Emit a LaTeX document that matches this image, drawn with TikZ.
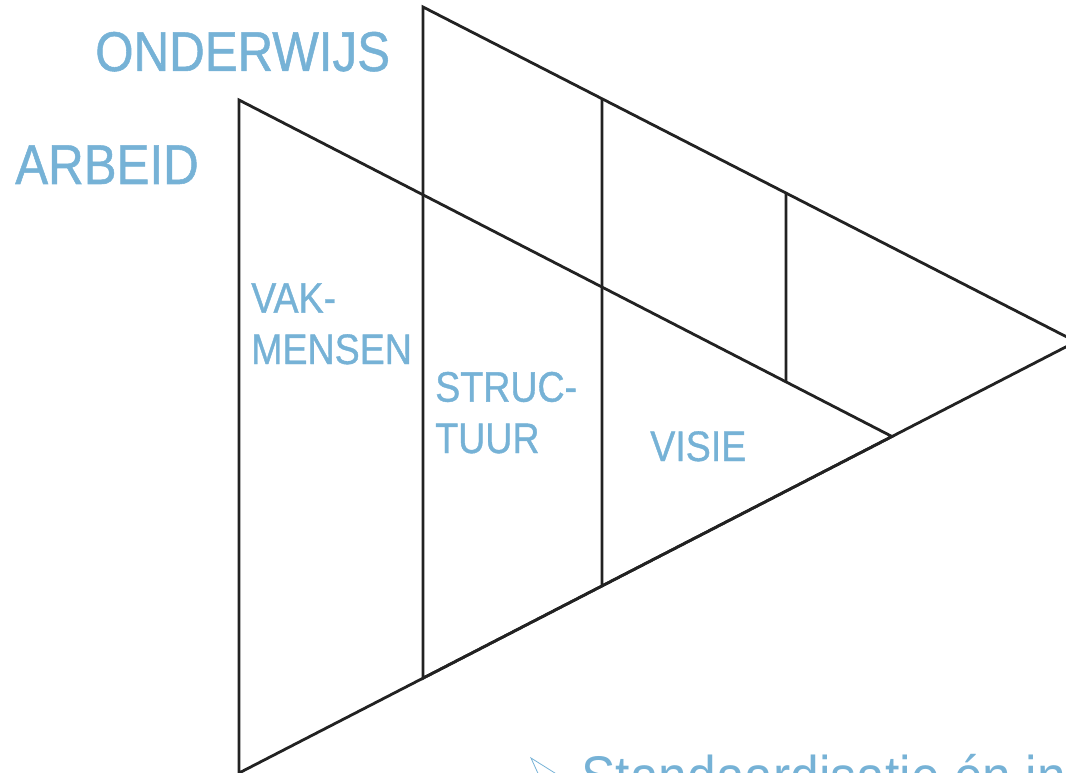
\documentclass[tikz,border=0pt]{standalone}
\usepackage{fontspec}
\usetikzlibrary{calc}
\newfontfamily\lblfont[FakeStretch=0.88,FakeBold=0.9]{Liberation Sans}
\newfontfamily\bulletfont[FakeStretch=0.9]{Liberation Sans}
\definecolor{lblblue}{RGB}{118,178,214}
\definecolor{edgegray}{RGB}{34,34,34}

\begin{document}
\begin{tikzpicture}[x=0.75pt,y=0.75pt,yscale=-1,xscale=1,
  lbl/.style={text=lblblue, inner sep=0pt, anchor=base west, align=left},
  big/.style={font=\lblfont\fontsize{42}{50}\selectfont},
  mid/.style={font=\lblfont\fontsize{32}{38.5}\selectfont},
  edgeline/.style={draw=edgegray, line width=2.1pt, line join=miter}]
\useasboundingbox (0,0) rectangle (1066,773);

%Coordinates: arbeid triangle
\coordinate (a1) at (239,100);
\coordinate (a2) at (239,773);
\coordinate (a3) at (892,436.5);
%Coordinates: onderwijs triangle (bottom edge on the arbeid one)
\coordinate (o1) at (423,7);
\coordinate (o2) at ($(a2)!{184/653}!(a3)$);
\coordinate (o3) at ($(a2)!{837/653}!(a3)$);
%Coordinates: dividers
\coordinate (d1t) at ($(o1)!{179/653}!(o3)$);
\coordinate (d1b) at ($(a2)!{363/653}!(a3)$);
\coordinate (d2t) at ($(o1)!{363/653}!(o3)$);
\coordinate (d2b) at ($(a1)!{547/653}!(a3)$);

%Shape: Triangles
\draw [edgeline] (a1) -- (a2) -- (a3) -- cycle;
\draw [edgeline] (o1) -- (o2) -- (o3) -- cycle;
%Shape: Dividers
\draw [edgeline] (d1t) -- (d1b);
\draw [edgeline] (d2t) -- (d2b);

% Text Node
\node [lbl,big] (onderwijs) at (95,71) {ONDERWIJS};
% Text Node
\node [lbl,big] (arbeid) at (15,184) {ARBEID};
% Text Node
\node [lbl,mid] (vakmensen) at (251,364) {VAK-\\MENSEN};
% Text Node
\node [lbl,mid] (structuur) at (435,453) {STRUC-\\TUUR};
% Text Node
\node [lbl,mid] (visie) at (650,461) {VISIE};

%Shape: Bullet
\draw [lblblue, line width=0.6pt, line join=miter] (531,758) -- (566,780) -- (531,800) -- (541,780) -- cycle;
% Text Node
\node [lbl,font=\bulletfont\fontsize{43}{52}\selectfont] (standaard) at (581,796) {Standaardisatie én in};

\end{tikzpicture}
\end{document}
